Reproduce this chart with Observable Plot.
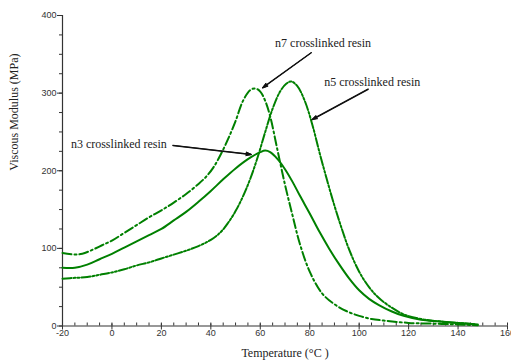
<!DOCTYPE html>
<html>
<head>
<meta charset="utf-8">
<script src="https://cdn.jsdelivr.net/npm/d3@7"></script>
<script src="https://cdn.jsdelivr.net/npm/@observablehq/plot@0.6"></script>
<style>
  html, body { margin: 0; padding: 0; background: #fff; }
  #chart { width: 511px; height: 364px; overflow: hidden; }
  #chart svg .serif-text text { font-family: "Liberation Serif", "Times New Roman", "DejaVu Serif", serif !important; }
  #chart svg g[aria-label="x-axis tick label"] text,
  #chart svg g[aria-label="y-axis tick label"] text { font-family: "Liberation Sans", Arial, sans-serif; }
</style>
</head>
<body>
<div id="chart"></div>
<script>
// ---- data ----
const n7Temp = [-20,-15,-12,-8,-4,0,5,10,15,20,25,30,35,38,41,44,47,50,53,56,58,60,62,64,67,70,73,76,80,85,90,95,100,105,110,120,130,140,148];
const n7Val  = [94,92,93,98,104,110,120,130,140,149,159,170,183,192,204,221,241,264,290,304,306,302,290,270,226,182,143,106,70,42,28,19,13,9,7,4,3,2,1];

const n3Temp = [-20,-15,-10,-5,0,5,10,15,20,25,30,35,40,45,50,55,60,62,64,67,70,73,76,80,84,88,92,96,100,104,108,113,118,125,132,140,148];
const n3Val  = [75,75,79,86,93,101,109,117,125,136,147,160,174,189,203,215,224,226,224,215,202,186,168,145,121,99,79,61,46,35,27,19,13,8,6,4,2];

const n5Temp = [-20,-15,-10,-5,0,5,10,15,20,25,30,35,40,44,47,50,53,56,59,62,65,68,70.5,72.5,75,78,81,84,87,90,93,96,100,104,108,113,118,125,132,140,147];
const n5Val  = [61,62,63,66,69,73,78,82,87,92,97,103,111,121,133,148,167,190,218,250,280,302,312,315,309,290,260,223,188,155,125,98,70,50,36,24,15,9,6,4,2];

const seriesNames = ["n7 crosslinked resin", "n5 crosslinked resin", "n3 crosslinked resin"];
const xMajor = [-20,0,20,40,60,80,100,120,140,160];
const yMajor = [0,100,200,300,400];
const xLabel = "Temperature (°C )";
const yLabel = "Viscous Modulus (MPa)";

// annotation anchors (data coordinates)
const labelX = [85.4, 105.3, 2.8];
const labelY = [364, 314, 234];
const arrowFromX = [80.6, 103.6, 24.7];
const arrowFromY = [352, 305, 232.6];
const arrowToX = [61.0, 81.0, 56.3];
const arrowToY = [307, 266, 221];

// ---- build tables ----
const toRows = (t, v) => t.map((x, i) => ({x, y: v[i]}));
const n7 = toRows(n7Temp, n7Val);
const n3 = toRows(n3Temp, n3Val);
const n5 = toRows(n5Temp, n5Val);
const notes = seriesNames.map((name, i) => ({
  name, lx: labelX[i], ly: labelY[i],
  x1: arrowFromX[i], y1: arrowFromY[i], x2: arrowToX[i], y2: arrowToY[i]
}));

const green = "#008000";
const serif = "Liberation Serif";
const sans = "'Liberation Sans', Arial, sans-serif";

const chart = Plot.plot({
  width: 511,
  height: 364,
  marginLeft: 62,
  marginRight: 4,
  marginTop: 15,
  marginBottom: 38.5,
  style: {background: "#fff", fontFamily: sans, fontSize: "9px", color: "#333", overflow: "visible"},
  x: {domain: [-20, 160]},
  y: {domain: [0, 400]},
  marks: [
    // minor ticks
    Plot.axisX({ticks: d3.range(-20, 161, 5), tickSize: -3, tickFormat: () => "", label: null, stroke: "#333"}),
    Plot.axisY({ticks: d3.range(0, 401, 25), tickSize: 3, tickFormat: () => "", label: null, stroke: "#333"}),
    // major ticks with labels
    Plot.axisX({ticks: xMajor, tickSize: 4, tickPadding: 0, label: null, stroke: "#333", fontSize: 9, fill: "#333", tickFormat: d => d}),
    Plot.axisX({ticks: xMajor, tickSize: -2, tickFormat: () => "", label: null, stroke: "#333"}),
    Plot.axisY({ticks: yMajor, tickSize: 5, tickPadding: 1, label: null, stroke: "#333", fontSize: 9, fill: "#333", tickFormat: d => d}),
    // axis lines
    Plot.ruleY([0], {stroke: "#333", strokeWidth: 1.2}),
    Plot.ruleX([-20], {stroke: "#333", strokeWidth: 1.2}),
    // curves
    Plot.line(n7, {x: "x", y: "y", curve: "catmull-rom", stroke: green, strokeWidth: 2, strokeDasharray: "9,3,2,3"}),
    Plot.line(n5, {x: "x", y: "y", curve: "catmull-rom", stroke: green, strokeWidth: 2, strokeDasharray: "9,2,2,2,2,2"}),
    Plot.line(n3, {x: "x", y: "y", curve: "catmull-rom", stroke: green, strokeWidth: 2}),
    // annotations
    Plot.arrow(notes, {x1: "x1", y1: "y1", x2: "x2", y2: "y2", stroke: "#111", strokeWidth: 1, headLength: 8, headAngle: 40}),
    Plot.arrow(notes, {x1: "x1", y1: "y1", x2: "x2", y2: "y2", stroke: "#111", strokeWidth: 1.5, headLength: 5, headAngle: 25}),
    Plot.text(notes, {x: "lx", y: "ly", text: "name", fontFamily: serif, fontSize: 12, fill: "#222", textAnchor: "middle", className: "serif-text"}),
    // axis titles
    Plot.text([xLabel], {frameAnchor: "bottom", dy: 31, fontFamily: serif, fontSize: 12, fill: "#222", className: "serif-text"}),
    Plot.text([yLabel], {frameAnchor: "left", dx: -48, dy: 0, rotate: -90, fontFamily: serif, fontSize: 12, fill: "#222", className: "serif-text"})
  ]
});
document.getElementById("chart").appendChild(chart);
</script>
</body>
</html>
